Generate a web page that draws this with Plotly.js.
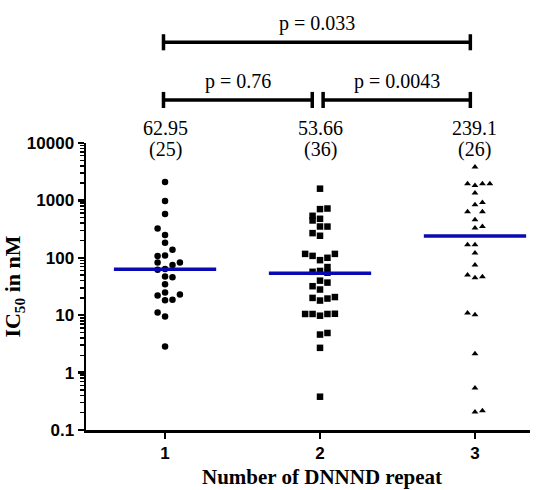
<!DOCTYPE html>
<html>
<head>
<meta charset="utf-8">
<script src="https://cdn.plot.ly/plotly-3.0.1.min.js"></script>
<style>html,body{margin:0;padding:0;background:#fff;}#chart{width:551px;height:490px;}</style>
</head>
<body>
<div id="chart"></div>
<script>
// Categories
const groups = [1, 2, 3];
const tickLabels = ['1', '2', '3'];
const xTitle = 'Number of DNNND repeat';
// IC50 values (nM) per group, and horizontal slot (column) of each dot
const g1Values = [2100, 980, 580, 324, 249, 183, 138, 108, 110, 83, 75, 83, 62, 64, 47, 46, 34.5, 22, 24.9, 23, 18.2, 18.5, 11.1, 9.5, 2.85];
const g1Slots  = [0, 0, 0, -1, 0, 0, 1, -1, 0, -1, 1, 2, -1, 0, 0, 1, 0, -1, 0, 2, 0, 1, -1, 0, 0];
const g2Values = [1600, 705, 722, 539, 447, 478, 351, 350, 269, 242, 117, 108, 91, 100, 117, 69, 57, 59, 55, 37, 40, 32, 28, 20, 18, 19.5, 20.7, 10.5, 10.5, 9.8, 10.5, 10.6, 4.6, 4.9, 2.7, 0.38];
const g2Slots  = [0, 0, 1, -1, -1, 0, 0, 1, -1, 0, -2, -1, 0, 1, 2, 1, -1, 0, 1, 1, 0, -1, 0, -1, 0, 1, 2, -2, -1, 0, 1, 2, 0, 1, 0, 0];
const g3Values = [3800, 1950, 1820, 1950, 1950, 1340, 838, 919, 633, 633, 459, 329, 351, 168, 168, 121, 75, 50, 45, 46.7, 10.9, 10.2, 2.13, 0.537, 0.205, 0.216];
const g3Slots  = [0, -1, 0, 1, 2, 0, 0, 1, -1, 1, 0, 0, 1, -1, 0, 0, 0, -1, 0, 1, -1, 0, 0, 0, 0, 1];
// Group summary values
const means = [62.95, 53.66, 239.1];
const counts = [25, 36, 26];
// Pairwise comparisons
const compFrom = [1, 1, 2];
const compTo = [2, 3, 3];
const compP = ['0.76', '0.033', '0.0043'];

const slotWidth = 0.048;
const symbols = ['circle', 'square', 'triangle-up'];
const sizes = [6.5, 6.5, 6];
const allValues = [g1Values, g2Values, g3Values];
const allSlots = [g1Slots, g2Slots, g3Slots];

const traces = [];
groups.forEach((g, i) => {
  traces.push({
    type: 'scatter', mode: 'markers',
    x: allSlots[i].map(s => g + s * slotWidth),
    y: allValues[i],
    marker: {symbol: symbols[i], size: sizes[i], color: '#000'},
    hoverinfo: 'skip', showlegend: false
  });
});
groups.forEach((g, i) => {
  traces.push({
    type: 'scatter', mode: 'lines',
    x: [g - 0.33, g + 0.33], y: [means[i], means[i]],
    line: {color: '#0a0ab4', width: 3.5},
    hoverinfo: 'skip', showlegend: false
  });
});

const serif = 'Liberation Serif, Times New Roman, serif';
const shapes = [];
const annotations = [];
// bracket levels (paper coords)
const levels = {'1-2': 1.15, '2-3': 1.15, '1-3': 1.351};
const ends = {'1-2': [0.99, 1.95], '2-3': [2.02, 2.97], '1-3': [0.99, 2.97]};
compFrom.forEach((a, i) => {
  const key = a + '-' + compTo[i];
  const yv = levels[key];
  const [x0, x1] = ends[key];
  const ln = {color: '#000', width: 3.5};
  shapes.push({type: 'line', xref: 'x', yref: 'paper', x0: x0, x1: x1, y0: yv, y1: yv, line: ln});
  shapes.push({type: 'line', xref: 'x', yref: 'paper', x0: x0, x1: x0, y0: yv - 0.028, y1: yv + 0.028, line: ln});
  shapes.push({type: 'line', xref: 'x', yref: 'paper', x0: x1, x1: x1, y0: yv - 0.028, y1: yv + 0.028, line: ln});
  annotations.push({xref: 'x', yref: 'paper', x: (x0 + x1) / 2, y: yv + 0.065, text: 'p = ' + compP[i],
    showarrow: false, font: {family: serif, size: 20, color: '#000'}, yanchor: 'middle'});
});
groups.forEach((g, i) => {
  annotations.push({xref: 'x', yref: 'paper', x: g, y: 1.053, text: String(means[i]),
    showarrow: false, font: {family: serif, size: 20, color: '#000'}, yanchor: 'middle'});
  annotations.push({xref: 'x', yref: 'paper', x: g, y: 0.976, text: '(' + counts[i] + ')',
    showarrow: false, font: {family: serif, size: 20, color: '#000'}, yanchor: 'middle'});
});
// x-axis title (offset to the right like the original)
annotations.push({xref: 'x', yref: 'paper', x: 2.013, y: -0.165, text: '<b>' + xTitle + '</b>',
  showarrow: false, font: {family: serif, size: 21, color: '#000'}, yanchor: 'middle'});

const layout = {
  width: 551, height: 490,
  margin: {l: 86, r: 21, t: 143, b: 60},
  paper_bgcolor: '#fff', plot_bgcolor: '#fff',
  showlegend: false,
  xaxis: {
    range: [0.49, 3.355], tickvals: groups, ticktext: tickLabels,
    showgrid: false, zeroline: false, showline: true, linecolor: '#000', linewidth: 2.5,
    ticks: 'outside', ticklen: 6, tickwidth: 2.5, tickcolor: '#000',
    tickfont: {family: 'Liberation Sans, Arial, sans-serif', size: 17, color: '#000', weight: 'bold'}
  },
  yaxis: {
    type: 'log', range: [-1, 4],
    tickvals: [0.1, 1, 10, 100, 1000, 10000], ticktext: ['0.1', '1', '10', '100', '1000', '10000'],
    showgrid: false, zeroline: false, showline: true, linecolor: '#000', linewidth: 2.5,
    ticks: 'outside', ticklen: 6, tickwidth: 2.5, tickcolor: '#000',
    minor: {ticks: 'outside', ticklen: 3.5, tickwidth: 1.5, tickcolor: '#000', dtick: 'D1', showgrid: false},
    tickfont: {family: 'Liberation Sans, Arial, sans-serif', size: 17, color: '#000', weight: 'bold'},
    title: {text: '<b>IC<sub>50</sub> in nM</b>', font: {family: serif, size: 22, color: '#000'}, standoff: 4}
  },
  shapes: shapes,
  annotations: annotations
};

Plotly.newPlot('chart', traces, layout, {displayModeBar: false, staticPlot: true});
</script>
</body>
</html>
